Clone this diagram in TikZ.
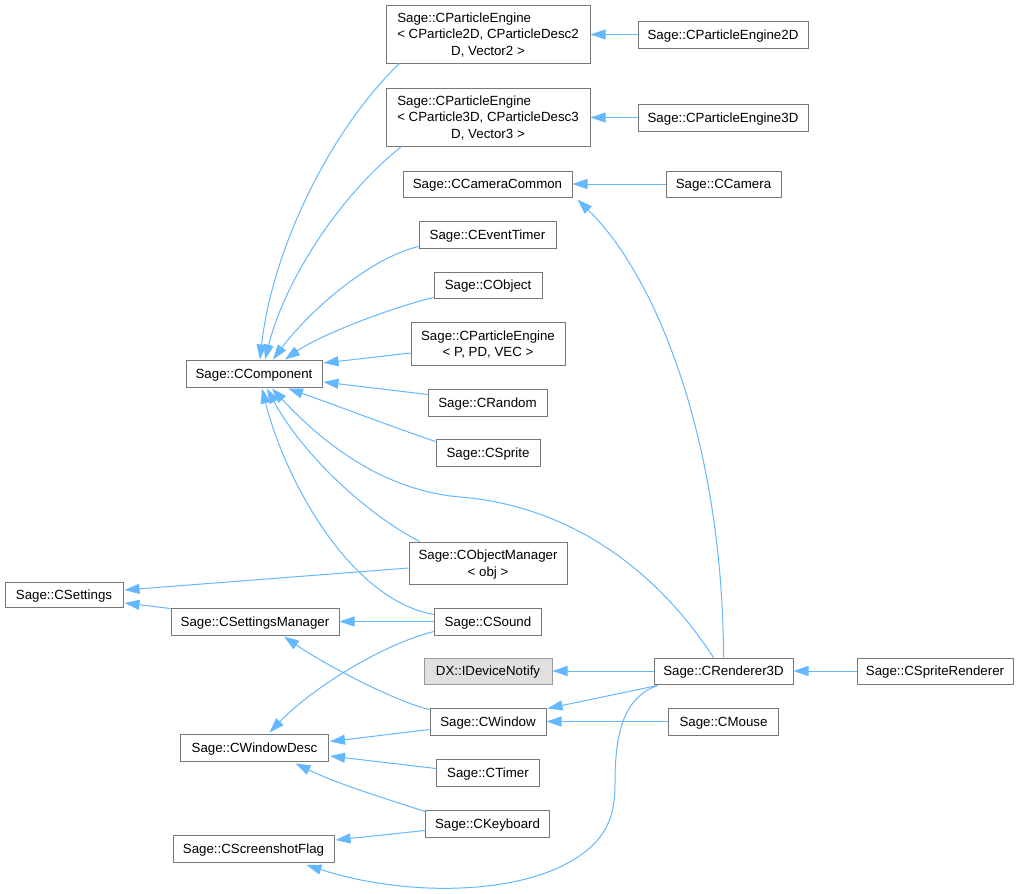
\documentclass[tikz,border=0pt]{standalone}
\usepackage{fontspec}
\setmainfont{Liberation Sans}
\usetikzlibrary{arrows.meta}
\definecolor{edgec}{HTML}{63B8FF}
\definecolor{boxc}{HTML}{777777}
\definecolor{extfill}{HTML}{E0E0E0}
\definecolor{extdraw}{HTML}{999999}
\begin{document}
\begin{tikzpicture}[x=1pt,y=-1pt,
  boxbase/.style={draw=boxc, fill=white, line width=1pt, inner sep=0pt,
    font=\fontsize{13.3}{16.5}\selectfont, align=center},
  box/.style={boxbase, text depth=0pt},
  ext/.style={box, fill=extfill, draw=extdraw},
  inh/.style={draw=edgec, line width=1pt, -{Triangle[length=15pt,width=10pt]}}]
\fill[white] (0,0) rectangle (1018,894);
\useasboundingbox (0,0) rectangle (1018,894);

% nodes
\node[boxbase, minimum width=204pt, minimum height=58pt] (pe2d) at (488,34)
  {\raisebox{-1.5pt}[\height][\depth]{\begin{tabular}{@{}l@{}}Sage::CParticleEngine\\{}< CParticle2D, CParticleDesc2\\\multicolumn{1}{@{}c@{}}{D, Vector2 >}\end{tabular}}};
\node[box, minimum width=170pt, minimum height=27pt] (pe2dc) at (723,34.5) {Sage::CParticleEngine2D};
\node[boxbase, minimum width=204pt, minimum height=58pt] (pe3d) at (488,117)
  {\raisebox{-1.5pt}[\height][\depth]{\begin{tabular}{@{}l@{}}Sage::CParticleEngine\\{}< CParticle3D, CParticleDesc3\\\multicolumn{1}{@{}c@{}}{D, Vector3 >}\end{tabular}}};
\node[box, minimum width=170pt, minimum height=27pt] (pe3dc) at (723,117.5) {Sage::CParticleEngine3D};
\node[box, minimum width=169pt, minimum height=26pt] (camc) at (487.5,184) {Sage::CCameraCommon};
\node[box, minimum width=115pt, minimum height=26pt] (cam) at (723.5,184) {Sage::CCamera};
\node[box, minimum width=137pt, minimum height=27pt] (evt) at (487.5,234.5) {Sage::CEventTimer};
\node[box, minimum width=108pt, minimum height=26pt] (obj) at (488,285) {Sage::CObject};
\node[box, minimum width=154pt, minimum height=43pt] (pev) at (488,343.5) {Sage::CParticleEngine\\{}< P, PD, VEC >};
\node[box, minimum width=136pt, minimum height=27pt] (comp) at (254,373.5) {Sage::CComponent};
\node[box, minimum width=119pt, minimum height=27pt] (rnd) at (487.5,402.5) {Sage::CRandom};
\node[box, minimum width=104pt, minimum height=27pt] (spr) at (488,452.5) {Sage::CSprite};
\node[box, minimum width=158pt, minimum height=42pt] (om) at (488,563) {Sage::CObjectManager\\{}< obj >};
\node[box, minimum width=118pt, minimum height=25pt] (set) at (64,594.5) {Sage::CSettings};
\node[box, minimum width=168pt, minimum height=27pt] (setm) at (255,621.5) {Sage::CSettingsManager};
\node[box, minimum width=107pt, minimum height=27pt] (snd) at (488,621.5) {Sage::CSound};
\node[ext, minimum width=128pt, minimum height=26pt] (dx) at (488,671) {DX::IDeviceNotify};
\node[box, minimum width=139pt, minimum height=26pt] (r3d) at (723.5,671) {Sage::CRenderer3D};
\node[box, minimum width=156pt, minimum height=26pt] (sprr) at (935,671) {Sage::CSpriteRenderer};
\node[box, minimum width=116pt, minimum height=27pt] (win) at (488,721.5) {Sage::CWindow};
\node[box, minimum width=110pt, minimum height=27pt] (mouse) at (723.5,721.5) {Sage::CMouse};
\node[box, minimum width=148pt, minimum height=27pt] (wd) at (254.5,747.5) {Sage::CWindowDesc};
\node[box, minimum width=103pt, minimum height=27pt] (tim) at (488,772.5) {Sage::CTimer};
\node[box, minimum width=124pt, minimum height=27pt] (kb) at (487.5,823.5) {Sage::CKeyboard};
\node[box, minimum width=161pt, minimum height=27pt] (ssf) at (253.5,849) {Sage::CScreenshotFlag};

% edges (child -> base)
\draw[inh] (pe2dc.west) -- (pe2d.east |- pe2dc.west);
\draw[inh] (pe3dc.west) -- (pe3d.east |- pe3dc.west);
\draw[inh] (cam.west) -- (camc.east);
\draw[inh] (r3d.north) .. controls (723,450) and (660,280) .. ([xshift=5pt,yshift=-2pt]camc.south east);

\draw[inh] ([xshift=14pt]pe2d.south west) .. controls (330,130) and (272,250) .. ([xshift=6pt]comp.north);
\draw[inh] ([xshift=16pt]pe3d.south west) .. controls (340,195) and (285,280) .. ([xshift=11pt]comp.north);
\draw[inh] ([yshift=2pt]evt.south west) .. controls (370,258) and (310,310) .. ([xshift=19pt]comp.north);
\draw[inh] ([yshift=1pt]obj.south west) .. controls (390,308) and (320,335) .. ([xshift=31pt]comp.north);
\draw[inh] ([yshift=-9.5pt]pev.west) -- ([xshift=1pt,yshift=10.5pt]comp.east);
\draw[inh] ([yshift=8pt]rnd.west) -- ([xshift=1pt,yshift=-8.5pt]comp.east);
\draw[inh] ([yshift=-3pt]spr.north west) .. controls (395,428) and (330,403) .. ([xshift=34pt,yshift=-1pt]comp.south);
\draw[inh] ([xshift=11pt]om.north west) .. controls (360,510) and (300,450) .. ([xshift=13pt,yshift=-1pt]comp.south);
\draw[inh] ([yshift=-7pt]snd.north west) .. controls (350,600) and (285,480) .. ([xshift=8pt,yshift=-1pt]comp.south);
\draw[inh] ([xshift=-10pt]r3d.north) .. controls (650,560) and (560,505) .. (460,497)
  .. controls (380,490) and (320,440) .. ([xshift=18pt,yshift=-1pt]comp.south);

\draw[inh] ([yshift=-5pt]om.west) -- ([xshift=1pt,yshift=4.5pt]set.east);
\draw[inh] ([yshift=-1pt]setm.north west) -- ([xshift=1pt,yshift=-8.5pt]set.east);
\draw[inh] (snd.west) -- (setm.east);
\draw[inh] ([yshift=-2pt]win.north west) .. controls (400,703) and (330,668) .. ([xshift=29pt,yshift=-1pt]setm.south);

\draw[inh] (r3d.west) -- (dx.east);
\draw[inh] (sprr.west) -- (r3d.east);
\draw[inh] ([xshift=4pt,yshift=-1pt]r3d.south west) -- ([xshift=1pt,yshift=-1pt]win.north east);
\draw[inh] (mouse.west) -- (win.east);
\draw[inh] ([yshift=4pt]snd.south west) .. controls (380,645) and (310,690) .. ([xshift=15pt,yshift=1pt]wd.north);
\draw[inh] ([yshift=-8pt]win.west) -- ([xshift=1pt,yshift=6pt]wd.east);
\draw[inh] ([yshift=4pt]tim.west) -- ([xshift=1pt,yshift=-8.5pt]wd.east);
\draw[inh] ([yshift=-2pt]kb.north west) .. controls (390,800) and (340,785) .. ([xshift=41pt,yshift=-2pt]wd.south);
\draw[inh] ([yshift=-7pt]kb.west) -- ([xshift=1pt,yshift=9pt]ssf.east);
\draw[inh] ([xshift=4pt,yshift=-1pt]r3d.south west) .. controls (625,697) and (615,730) .. (615,783)
  .. controls (615,820) and (605,845) .. (560,867)
  .. controls (500,895) and (400,895) .. ([xshift=53pt,yshift=-2pt]ssf.south);
\end{tikzpicture}
\end{document}
